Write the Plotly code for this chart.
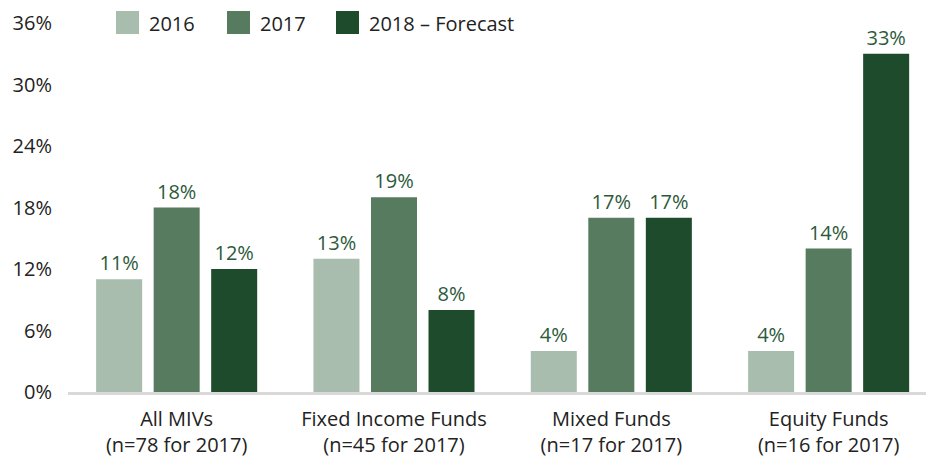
import plotly.graph_objects as go

categories = [
    "All MIVs<br>(n=78 for 2017)",
    "Fixed Income Funds<br>(n=45 for 2017)",
    "Mixed Funds<br>(n=17 for 2017)",
    "Equity Funds<br>(n=16 for 2017)",
]
series_names = ["2016", "2017", "2018 – Forecast"]
values_2016 = [11, 13, 4, 4]
values_2017 = [18, 19, 17, 14]
values_2018 = [12, 8, 17, 33]
y_ticks = [0, 6, 12, 18, 24, 30, 36]

colors = ["#A9BDAE", "#567B5F", "#1D4B2C"]
label_color = "#2C5A3A"
text_color = "#222222"
font_family = "'Open Sans', Lato, sans-serif"
fs = 20

fig = go.Figure()
for name, vals, col in zip(series_names, [values_2016, values_2017, values_2018], colors):
    fig.add_trace(go.Bar(
        x=categories, y=vals, name=name,
        marker=dict(color=col, line=dict(width=0)),
        text=[f"{v}%" for v in vals], textposition="outside",
        textfont=dict(color=label_color, size=fs, family=font_family),
        cliponaxis=False, showlegend=False,
    ))

# legend drawn as swatches with labels along the top row
legend_x = [116, 227, 336]
W, H = 926, 460
ml, mr, mt, mb = 68, 0, 23, 68
pw, ph = W - ml - mr, H - mt - mb
for lx, name, col in zip(legend_x, series_names, colors):
    fig.add_shape(type="rect", xref="paper", yref="paper",
                  x0=(lx - ml) / pw, x1=(lx + 23 - ml) / pw,
                  y0=1 - (34 - mt) / ph, y1=1 - (11 - mt) / ph,
                  fillcolor=col, line=dict(width=0))
    fig.add_annotation(xref="paper", yref="paper", x=(lx + 31 - ml) / pw, y=1 - (23 - mt) / ph,
                       text=name, showarrow=False, xanchor="left", yanchor="middle",
                       font=dict(size=fs, color=text_color, family=font_family))

fig.update_layout(
    width=W, height=H,
    margin=dict(l=ml, r=mr, t=mt, b=mb),
    paper_bgcolor="white", plot_bgcolor="white",
    barmode="group", bargap=0.206, bargroupgap=0.2,
    font=dict(family=font_family, size=fs, color=text_color),
    showlegend=False,
)
fig.update_xaxes(
    range=[-0.5, 3.448], showgrid=False, zeroline=False,
    showline=True, linecolor="#D9D9D9", linewidth=3,
    ticks="", ticklabelstandoff=7,
    tickfont=dict(size=fs, color=text_color),
)
fig.update_yaxes(
    range=[0, 36], tickvals=y_ticks, ticktext=[f"{t}%" for t in y_ticks],
    showgrid=False, zeroline=False, showline=False,
    ticks="", ticklabelstandoff=15,
    tickfont=dict(size=fs, color=text_color),
)

fig.write_html("out.html")
